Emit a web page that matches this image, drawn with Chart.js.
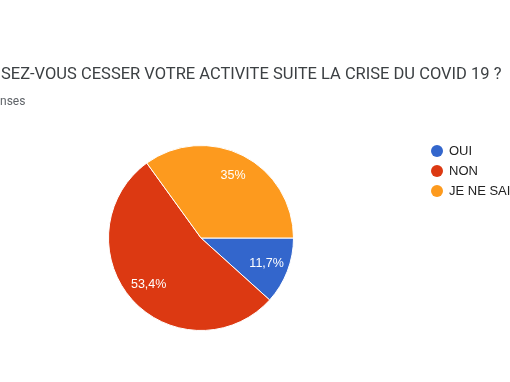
<!DOCTYPE html>
<html>
<head>
<meta charset="utf-8">
<script src="https://cdn.jsdelivr.net/npm/chart.js@4"></script>
<style>
    html, body { margin: 0; padding: 0; background: #fff; }
    #wrap { width: 510px; height: 382px; position: relative; }
</style>
</head>
<body>
<div id="wrap"><canvas id="pieChart"></canvas></div>
<script>
const titleText = 'SEZ-VOUS CESSER VOTRE ACTIVITE SUITE LA CRISE DU COVID 19 ?';
const subtitleText = 'nses';
const labels = ['OUI', 'NON', 'JE NE SAIS PAS'];
const values = [11.7, 53.4, 35];
const valueLabels = ['11,7%', '53,4%', '35%'];
const colors = ['#3366cc', '#dc3912', '#fd9a1e'];

// header text (title + response count), cut at the left like the original
const headerPlugin = {
    id: 'header',
    afterDraw(chart) {
        const ctx = chart.ctx;
        ctx.save();
        ctx.textBaseline = 'alphabetic';
        ctx.textAlign = 'left';
        ctx.fillStyle = '#3c4043';
        ctx.font = '16.5px Roboto';
        ctx.fillText(titleText, 1, 79);
        ctx.fillStyle = '#5f6368';
        ctx.font = '12px Roboto';
        ctx.fillText(subtitleText, 0, 105);
        ctx.restore();
    }
};

// percent labels inside the slices
const sliceLabels = {
    id: 'sliceLabels',
    afterDatasetsDraw(chart) {
        const ctx = chart.ctx;
        const meta = chart.getDatasetMeta(0);
        ctx.save();
        ctx.fillStyle = '#ffffff';
        ctx.font = '12.5px Arial';
        ctx.textAlign = 'center';
        ctx.textBaseline = 'middle';
        meta.data.forEach((arc, i) => {
            const mid = (arc.startAngle + arc.endAngle) / 2;
            const r = arc.outerRadius * 0.76;
            ctx.fillText(valueLabels[i], arc.x + Math.cos(mid) * r, arc.y + Math.sin(mid) * r);
        });
        ctx.restore();
    }
};

// legend on the right, runs off the edge
const sideLegend = {
    id: 'sideLegend',
    afterDraw(chart) {
        const ctx = chart.ctx;
        ctx.save();
        ctx.font = '13px Arial';
        ctx.textBaseline = 'middle';
        labels.forEach((lab, i) => {
            const y = 151 + i * 20;
            ctx.fillStyle = colors[i];
            ctx.beginPath();
            ctx.arc(437, y, 6, 0, Math.PI * 2);
            ctx.fill();
            ctx.fillStyle = '#222222';
            ctx.fillText(lab, 449, y);
        });
        ctx.restore();
    }
};

new Chart(document.getElementById('pieChart'), {
    type: 'pie',
    data: {
        labels: labels,
        datasets: [{
            data: values,
            backgroundColor: colors,
            borderColor: '#ffffff',
            borderWidth: 1
        }]
    },
    options: {
        responsive: true,
        maintainAspectRatio: false,
        animation: false,
        rotation: 90,
        layout: { padding: { left: 108, right: 216, top: 145, bottom: 51 } },
        plugins: {
            legend: { display: false },
            tooltip: { enabled: false }
        }
    },
    plugins: [headerPlugin, sliceLabels, sideLegend]
});
</script>
</body>
</html>
